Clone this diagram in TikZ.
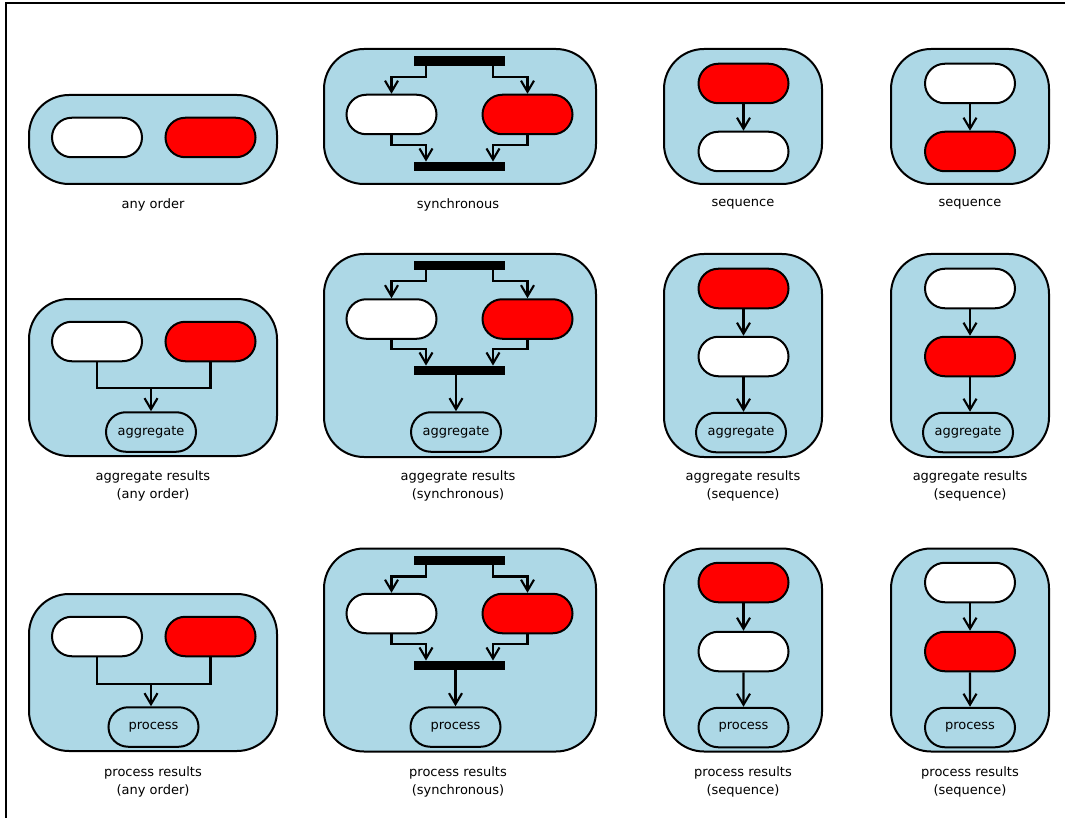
\documentclass[tikz,border=0pt]{standalone}
\usepackage{fontspec}
\setmainfont{DejaVu Sans}
\usetikzlibrary{shapes.misc,arrows.meta,calc}
\definecolor{pbg}{RGB}{173,216,230}
\newcommand\mylblfont{\fontsize{13}{18}\selectfont}
\tikzset{
  panel/.style={draw, line width=2pt, fill=pbg, rounded corners=40pt, inner sep=0pt},
  pill/.style={draw, line width=2pt, rounded rectangle, minimum width=90pt, minimum height=39.5pt, inner sep=0pt, font=\mylblfont},
  wpill/.style={pill, fill=white},
  rpill/.style={pill, fill=red},
  apill/.style={pill, fill=pbg},
  bar/.style={fill=black, minimum width=91pt, minimum height=9.5pt, inner sep=0pt},
  conn/.style={line width=2.1pt},
  arr/.style={conn, -{Straight Barb[length=11pt,width=13pt]}},
  captxt/.style={font=\mylblfont, align=center}
}
\begin{document}
\begin{tikzpicture}[x=1pt,y=-1pt]
\useasboundingbox (0,0) rectangle (1065,818);
\coordinate (fbl) at (6,818);
\coordinate (ftl) at (6,3);
\coordinate (ftr) at (1065,3);
\draw[line width=2pt] (fbl) -- (ftl) -- (ftr);

% ---------- Row 1 ----------
% A1 any order
\node[panel, minimum width=248pt, minimum height=89pt] (a1) at (153,139.5) {};
\node[wpill] (a1w) at (97,137.5) {};
\node[rpill] (a1r) at (210.5,137.5) {};
\node[captxt] (a1c) at (153,204.5) {any order};

% A2 synchronous
\node[panel, minimum width=272pt, minimum height=135pt] (a2) at (460,116.5) {};
\node[bar] (a2t) at (459.5,61) {};
\node[wpill] (a2w) at (391.5,114.5) {};
\node[rpill] (a2r) at (527.5,114.5) {};
\node[bar] (a2b) at (459.5,166.5) {};
\draw[arr] ($(a2t.south)+(-33.5,0)$) -- ++(0,11) -| (a2w.north);
\draw[arr] ($(a2t.south)+(33.5,0)$) -- ++(0,11) -| (a2r.north);
\draw[arr] (a2w.south) -- ++(0,9.5) -| ($(a2b.north)+(-33.5,0)$);
\draw[arr] (a2r.south) -- ++(0,9.5) -| ($(a2b.north)+(33.5,0)$);
\node[captxt] (a2c) at (458,204.5) {synchronous};

% A3 sequence
\node[panel, minimum width=158pt, minimum height=135pt] (a3) at (743,116.5) {};
\node[rpill] (a3r) at (743.5,83.5) {};
\node[wpill] (a3w) at (743.5,151.5) {};
\draw[arr] (a3r) -- (a3w);
\node[captxt] (a3c) at (743,204.5) {sequence};

% A4 sequence
\node[panel, minimum width=158pt, minimum height=135pt] (a4) at (970,116.5) {};
\node[wpill] (a4w) at (970,83.5) {};
\node[rpill] (a4r) at (970,151.5) {};
\draw[arr] (a4w) -- (a4r);
\node[captxt] (a4c) at (970,204.5) {sequence};

% ---------- Row 2 ----------
% B1
\node[panel, minimum width=248pt, minimum height=157pt] (b1) at (153,377.5) {};
\node[wpill] (b1w) at (97,341.5) {};
\node[rpill] (b1r) at (210.5,341.5) {};
\node[apill] (b1a) at (151,432) {aggregate};
\draw[conn] (b1w.south) -- ++(0,25.5) -| (b1r.south);
\coordinate (b1j) at (151,387);
\draw[arr] (b1j) -- (b1a.north);
\node[captxt] (b1c) at (153,486) {aggregate results\\(any order)};

% B2
\node[panel, minimum width=272pt, minimum height=203pt] (b2) at (460,355.5) {};
\node[bar] (b2t) at (459.5,265.5) {};
\node[wpill] (b2w) at (391.5,319) {};
\node[rpill] (b2r) at (527.5,319) {};
\node[bar] (b2b) at (459.5,370.5) {};
\node[apill] (b2a) at (456,432) {aggregate};
\draw[arr] ($(b2t.south)+(-33.5,0)$) -- ++(0,11) -| (b2w.north);
\draw[arr] ($(b2t.south)+(33.5,0)$) -- ++(0,11) -| (b2r.north);
\draw[arr] (b2w.south) -- ++(0,9) -| ($(b2b.north)+(-33.5,0)$);
\draw[arr] (b2r.south) -- ++(0,9) -| ($(b2b.north)+(33.5,0)$);
\draw[arr] (b2a.north |- b2b.south) -- (b2a.north);
\node[captxt] (b2c) at (458,486) {aggegrate results\\(synchronous)};

% B3
\node[panel, minimum width=158pt, minimum height=203pt] (b3) at (743,355.5) {};
\node[rpill] (b3r) at (743.5,288.5) {};
\node[wpill] (b3w) at (743.5,356.5) {};
\node[apill] (b3a) at (741,432.5) {aggregate};
\draw[arr] (b3r) -- (b3w);
\draw[arr] (b3w.south) -- (b3w.south |- b3a.north);
\node[captxt] (b3c) at (743,486) {aggregate results\\(sequence)};

% B4
\node[panel, minimum width=158pt, minimum height=203pt] (b4) at (970,355.5) {};
\node[wpill] (b4w) at (970,288.5) {};
\node[rpill] (b4r) at (970,356.5) {};
\node[apill] (b4a) at (968,432.5) {aggregate};
\draw[arr] (b4w) -- (b4r);
\draw[arr] (b4r.south) -- (b4r.south |- b4a.north);
\node[captxt] (b4c) at (970,486) {aggregate results\\(sequence)};

% ---------- Row 3 ----------
% C1
\node[panel, minimum width=248pt, minimum height=157pt] (c1) at (153,672.5) {};
\node[wpill] (c1w) at (97,636.5) {};
\node[rpill] (c1r) at (210.5,636.5) {};
\node[apill] (c1p) at (153.5,727) {process};
\draw[conn] (c1w.south) -- ++(0,26.5) -| (c1r.south);
\coordinate (c1j) at (151,684);
\draw[arr] (c1j) -- (c1j |- c1p.north);
\node[captxt] (c1c) at (153,781.5) {process results\\(any order)};

% C2
\node[panel, minimum width=272pt, minimum height=203pt] (c2) at (460,650) {};
\node[bar] (c2t) at (459.5,560.5) {};
\node[wpill] (c2w) at (391.5,613.5) {};
\node[rpill] (c2r) at (527.5,613.5) {};
\node[bar] (c2b) at (459.5,665.5) {};
\node[apill] (c2p) at (455.5,727) {process};
\draw[arr] ($(c2t.south)+(-33.5,0)$) -- ++(0,11) -| (c2w.north);
\draw[arr] ($(c2t.south)+(33.5,0)$) -- ++(0,11) -| (c2r.north);
\draw[arr] (c2w.south) -- ++(0,9.5) -| ($(c2b.north)+(-33.5,0)$);
\draw[arr] (c2r.south) -- ++(0,9.5) -| ($(c2b.north)+(33.5,0)$);
\draw[arr] (c2p.north |- c2b.south) -- (c2p.north);
\node[captxt] (c2c) at (458,781.5) {process results\\(synchronous)};

% C3
\node[panel, minimum width=158pt, minimum height=203pt] (c3) at (743,650) {};
\node[rpill] (c3r) at (743.5,582.5) {};
\node[wpill] (c3w) at (743.5,651.5) {};
\node[apill] (c3p) at (743.5,727.5) {process};
\draw[arr] (c3r) -- (c3w);
\draw[arr] (c3w) -- (c3p);
\node[captxt] (c3c) at (743,781.5) {process results\\(sequence)};

% C4
\node[panel, minimum width=158pt, minimum height=203pt] (c4) at (970,650) {};
\node[wpill] (c4w) at (970,582.5) {};
\node[rpill] (c4r) at (970,651.5) {};
\node[apill] (c4p) at (970,727.5) {process};
\draw[arr] (c4w) -- (c4r);
\draw[arr] (c4r) -- (c4p);
\node[captxt] (c4c) at (970,781.5) {process results\\(sequence)};
\end{tikzpicture}
\end{document}
